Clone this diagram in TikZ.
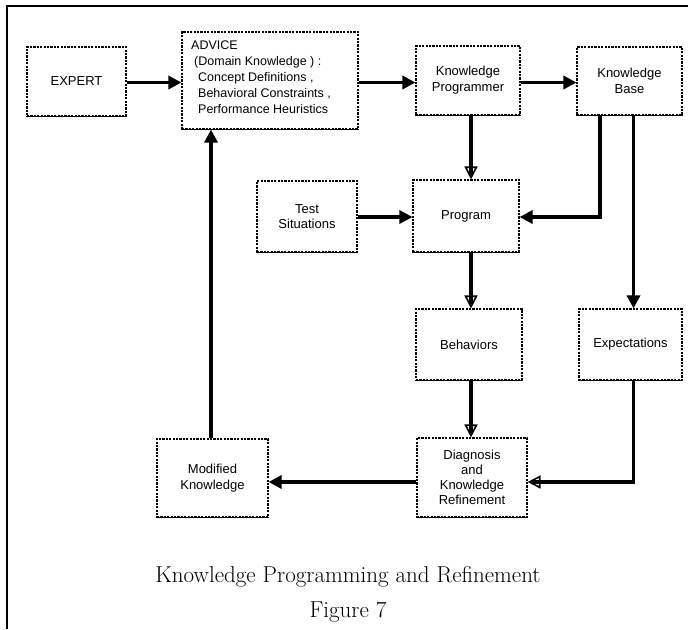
\documentclass[tikz,border=0pt]{standalone}
\usepackage{fontspec}
\newfontfamily\boxfont{Liberation Sans}
\usetikzlibrary{arrows.meta}
\begin{document}
\begin{tikzpicture}[x=1pt,y=-1pt,
  box/.style={draw, line width=1.1pt, dash pattern=on 2.2pt off 1.2pt, align=center,
    font=\boxfont\fontsize{13}{16}\selectfont, inner sep=0pt},
  boxbottom/.style={line width=1.5pt},
  conn/.style={line width=3.6pt, -{Triangle[length=13pt,width=13pt]}},
  shaft/.style={line width=3.6pt, shorten >=4pt},
  oconn/.style={line width=3.6pt, -{Triangle[open,length=13pt,width=13pt,line width=1.6pt]}},
  frameline/.style={line width=1.4pt},
  captext/.style={font=\fontsize{23}{27}\selectfont, inner sep=0pt}
]
\useasboundingbox (0,0) rectangle (698,629);

% frame
\coordinate (fr1) at (688,6);
\coordinate (fr2) at (7,6);
\coordinate (fr3) at (7,629);
\draw[frameline] (fr1) -- (fr2) -- (fr3);

% boxes
\node[box, minimum width=99pt, minimum height=69pt] (expert) at (76.5,81.5) {EXPERT};
\node[box, minimum width=176pt, minimum height=97pt] (advice) at (270,80.5) {};
\node[anchor=north west, align=left, inner sep=0pt,
      font=\boxfont\fontsize{12.5}{15.8}\selectfont] (advicetext) at (191,41)
  {ADVICE\\
   \hspace*{3pt}(Domain Knowledge ) :\\
   \hspace*{7pt}Concept Definitions ,\\
   \hspace*{7pt}Behavioral Constraints ,\\
   \hspace*{7pt}Performance Heuristics};
\node[box, minimum width=104pt, minimum height=69pt] (kp) at (468,80.5) {Knowledge\\Programmer};
\node[box, minimum width=105pt, minimum height=68pt] (kb) at (629.5,81) {Knowledge\\Base};
\node[box, minimum width=100pt, minimum height=71pt, font=\boxfont\fontsize{13}{14.5}\selectfont] (test) at (307,216.5) {Test\\Situations};
\node[box, minimum width=106pt, minimum height=72pt] (prog) at (466,216) {Program};
\node[box, minimum width=106pt, minimum height=71pt] (behav) at (469,344.5) {Behaviors};
\node[box, minimum width=103pt, minimum height=71pt] (expect) at (630.5,344.5) {Expectations};
\node[box, minimum width=111pt, minimum height=78pt] (mod) at (212.5,478) {Modified\\Knowledge};
\node[box, minimum width=110pt, minimum height=79pt, font=\boxfont\fontsize{13}{14.8}\selectfont] (diag) at (472,477.5) {Diagnosis\\and\\Knowledge\\Refinement};

\foreach \n in {expert,advice,kp,kb,test,prog,behav,expect,mod,diag}
  \draw[boxbottom] (\n.south west) -- (\n.south east);

% lanes
\coordinate (lane1) at (471,0);
\coordinate (lane2) at (600,0);
\coordinate (lane3) at (633.5,0);
\coordinate (laneM) at (211,0);
\coordinate (row1) at (0,82.5);
\coordinate (row2) at (0,217);
\coordinate (row3) at (0,482);

% connectors
\draw[conn] (expert.east |- row1) -- (advice.west |- row1);
\draw[conn] (advice.east |- row1) -- (kp.west |- row1);
\draw[conn] (kp.east |- row1) -- (kb.west |- row1);
\draw[shaft] (kp.south -| lane1) -- (prog.north -| lane1);
\draw[oconn] (kp.south -| lane1) -- (prog.north -| lane1);
\draw[conn] (kb.south -| lane2) |- (prog.east |- row2);
\draw[conn] (kb.south -| lane3) -- (expect.north -| lane3);
\draw[conn] (test.east |- row2) -- (prog.west |- row2);
\draw[shaft] (prog.south -| lane1) -- (behav.north -| lane1);
\draw[oconn] (prog.south -| lane1) -- (behav.north -| lane1);
\draw[shaft] (behav.south -| lane1) -- (diag.north -| lane1);
\draw[oconn] (behav.south -| lane1) -- (diag.north -| lane1);
\draw[shaft] (expect.south -| lane3) |- (diag.east |- row3);
\draw[oconn] (expect.south -| lane3) |- (diag.east |- row3);
\draw[conn] (diag.west |- row3) -- (mod.east |- row3);
\draw[conn] (mod.north -| laneM) -- (advice.south -| laneM);

% caption
\node[captext] (title) at (348,577) {Knowledge Programming and Refinement};
\node[captext] (fig) at (348,612) {Figure 7};
\end{tikzpicture}
\end{document}
